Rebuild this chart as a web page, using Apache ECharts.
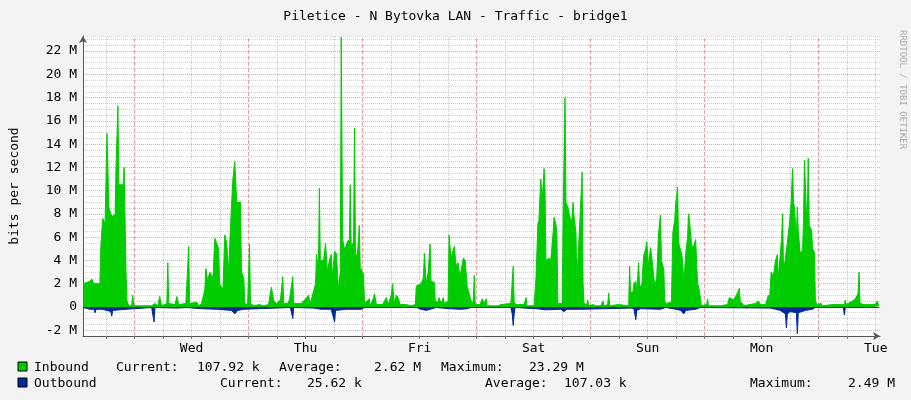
<!DOCTYPE html>
<html>
<head>
<meta charset="utf-8">
<script src="https://cdn.jsdelivr.net/npm/echarts@6/dist/echarts.min.js"></script>
<style>
  html, body { margin: 0; padding: 0; background: #f3f3f3; }
  #chart { width: 911px; height: 400px; }
</style>
</head>
<body>
<div id="chart"></div>
<script>
// hours since Tue 00:00, values in Mbit/s
const inTimes = [1.2,2.6,3.0,3.5,4.7,4.9,5.3,5.8,6.2,6.6,7.2,7.9,8.1,8.5,8.7,9.6,9.8,10.2,10.4,10.8,11.4,11.6,11.9,15.6,16.3,16.9,17.3,17.7,18.8,19.0,19.2,20.5,20.9,21.3,22.8,23.4,23.6,25.1,25.5,26.1,26.8,27.0,27.4,27.8,28.5,28.9,29.3,29.7,29.9,30.6,31.0,31.4,31.8,32.2,32.7,33.1,33.5,34.3,34.5,35.0,35.2,35.8,36.2,36.4,37.1,38.3,38.7,39.2,40.2,40.8,41.3,41.9,42.7,43.2,43.4,44.2,44.6,45.3,45.5,47.1,48.2,48.6,49.0,50.1,50.3,50.7,50.9,51.1,51.8,52.2,52.6,53.0,53.4,53.6,54.1,54.5,54.9,55.3,55.5,55.8,56.2,56.8,57.2,57.4,57.6,58.1,58.3,58.5,58.9,59.3,59.5,60.2,60.4,60.8,61.4,61.6,62.3,62.5,62.9,64.2,65.0,65.4,66.0,66.3,66.7,67.1,67.5,67.9,69.2,70.2,71.1,71.3,72.3,72.8,73.0,73.4,73.8,74.2,74.4,75.1,75.3,75.9,76.1,76.5,77.0,77.2,78.0,78.2,78.6,79.1,79.3,79.7,80.1,80.5,81.2,81.6,82.0,82.2,82.6,83.0,83.3,83.5,83.7,84.7,85.2,85.6,86.0,86.2,88.5,89.1,91.2,91.7,91.9,92.3,94.0,94.4,94.6,96.1,96.5,96.9,97.1,97.5,97.8,98.2,98.4,98.6,99.2,99.6,100.1,100.3,100.7,100.9,101.1,102.0,102.2,102.6,102.8,103.2,103.6,104.0,104.3,104.5,104.9,105.1,105.5,105.7,106.2,106.4,106.6,107.2,107.4,107.6,108.5,109.1,110.1,110.6,110.8,111.6,111.8,112.0,113.9,114.3,116.0,116.2,116.4,116.9,117.1,117.5,117.7,118.1,118.3,118.8,119.0,119.2,119.6,119.8,120.2,120.6,120.8,121.1,121.5,121.9,122.3,122.7,122.9,123.4,123.6,123.8,125.0,125.3,125.7,125.9,126.3,126.5,127.2,127.4,127.6,127.8,128.0,128.4,128.6,128.8,129.2,129.5,130.1,130.5,130.7,131.1,131.3,132.4,132.6,132.8,133.9,134.3,135.3,136.8,137.2,138.1,138.5,138.9,139.3,139.5,140.0,140.2,142.7,143.3,143.7,144.8,145.4,145.6,146.0,146.5,146.9,147.3,147.5,147.7,148.2,148.4,148.6,149.0,149.4,149.8,150.2,150.5,150.7,150.9,151.3,151.5,151.7,152.1,152.6,152.8,153.0,153.4,153.6,153.8,154.0,154.5,154.7,155.1,155.3,155.7,156.5,156.8,158.9,159.3,161.4,161.6,161.8,162.6,163.1,163.7,164.1,164.3,164.5,164.7,165.6,166.8,167.9,168.3,168.7];
const inValues = [2.0,2.2,2.4,2.0,2.0,5.2,7.6,7.2,14.9,8.5,7.8,7.9,12.0,17.3,10.5,10.5,12.0,3.0,0.5,0.1,0.1,1.0,0.1,0.1,0.3,0.1,0.9,0.1,0.3,3.8,0.3,0.2,0.9,0.2,0.3,5.2,0.3,0.4,0.1,0.3,1.5,3.3,2.2,3.0,2.5,5.9,5.8,5.0,2.0,1.5,6.2,5.5,3.0,7.0,11.0,12.5,9.0,9.0,3.0,2.5,0.3,0.2,5.4,0.3,0.1,0.2,0.3,0.1,0.2,1.7,0.5,0.3,0.6,2.6,0.3,0.3,0.6,2.6,0.3,0.3,0.8,1.0,0.3,2.0,4.5,3.0,10.2,4.0,4.0,5.5,3.0,4.0,4.5,2.5,4.8,4.6,1.5,3.0,23.2,5.8,4.9,5.6,5.8,10.5,5.2,5.6,15.4,4.6,4.4,7.0,3.4,2.8,0.3,0.2,0.7,0.1,0.8,1.1,0.2,0.2,0.8,0.2,1.0,2.0,0.3,1.0,0.8,0.2,0.2,0.1,0.2,1.8,2.0,2.5,4.6,2.0,3.0,5.4,2.2,2.1,0.5,0.4,0.8,0.3,0.8,0.3,0.5,6.2,4.2,4.9,5.2,3.5,3.8,2.6,4.2,4.0,1.8,1.5,0.9,0.3,0.5,2.7,0.2,0.2,0.7,0.3,0.7,0.1,0.1,0.2,0.3,3.5,0.4,0.2,0.2,0.8,0.1,0.1,2.5,7.2,7.4,11.0,9.2,11.9,10.0,4.0,4.2,4.0,6.4,7.7,7.1,6.2,0.3,0.3,7.6,18.0,9.0,8.6,7.8,7.2,9.0,7.8,6.4,2.3,2.3,7.1,11.6,2.0,0.3,0.2,0.6,0.1,0.2,0.1,0.1,0.5,0.1,0.2,1.2,0.1,0.2,0.2,0.1,3.5,1.2,1.3,2.0,2.2,1.4,3.8,1.6,2.0,3.5,4.5,5.0,5.6,3.5,5.1,4.5,4.4,1.8,2.5,6.4,7.9,4.0,3.2,0.5,0.3,0.4,6.4,7.5,8.9,10.3,5.5,4.5,3.6,1.9,1.9,4.6,6.0,8.0,7.5,5.5,5.0,5.8,2.0,1.8,0.8,0.1,0.2,0.7,0.1,0.1,0.2,0.1,0.2,0.8,0.6,0.9,1.2,1.6,0.4,0.3,0.1,0.3,0.5,0.2,0.2,1.0,0.3,3.0,2.7,4.0,4.5,2.3,3.5,6.0,8.0,3.0,3.0,5.5,7.0,9.0,11.9,9.0,8.5,6.0,8.6,6.5,4.6,4.9,7.5,12.6,8.3,8.0,12.8,7.0,6.6,5.0,4.7,0.5,0.2,0.3,0.1,0.2,0.1,0.2,0.6,0.2,0.4,0.5,0.7,1.0,1.2,3.0,0.3,0.2,0.2,0.2,0.5,0.1];
const outTimes = [1.2,2.6,3.5,3.7,3.9,5.1,6.2,7.0,7.2,7.4,10.2,10.6,15.6,16.1,16.3,20.9,23.0,26.1,29.3,32.4,33.1,33.7,35.0,35.4,44.8,45.3,45.5,49.7,51.3,53.4,54.1,54.3,56.6,59.7,60.4,71.3,72.3,73.4,73.8,75.5,78.2,80.7,82.0,82.8,91.2,91.5,91.7,91.9,92.1,96.5,97.5,98.6,101.7,102.4,103.0,106.2,106.6,116.4,117.1,117.3,117.5,117.7,118.5,122.7,123.8,125.3,127.0,127.6,128.0,130.1,131.1,145.8,146.9,147.9,149.0,149.2,149.4,150.0,151.3,151.5,151.7,153.2,154.7,155.3,161.2,161.4,161.6,168.7];
const outValues = [-0.05,-0.2,-0.2,-0.5,-0.2,-0.2,-0.3,-0.4,-0.8,-0.3,-0.2,-0.05,-0.05,-1.3,-0.05,-0.1,-0.05,-0.15,-0.2,-0.3,-0.6,-0.3,-0.2,-0.05,-0.05,-1.0,-0.05,-0.1,-0.2,-0.2,-1.3,-0.3,-0.2,-0.2,-0.05,-0.05,-0.2,-0.3,-0.15,-0.05,-0.15,-0.2,-0.15,-0.05,-0.05,-0.6,-1.6,-0.6,-0.05,-0.15,-0.2,-0.25,-0.2,-0.4,-0.2,-0.2,-0.05,-0.1,-0.15,-0.6,-1.1,-0.3,-0.15,-0.2,-0.05,-0.15,-0.3,-0.6,-0.3,-0.2,-0.05,-0.1,-0.2,-0.3,-0.6,-1.8,-0.6,-0.4,-0.5,-2.3,-0.5,-0.3,-0.2,-0.05,-0.05,-0.7,-0.05,-0.05];
const dayHours = [24, 48, 72, 96, 120, 144, 168];
const dayNames = ['Wed', 'Thu', 'Fri', 'Sat', 'Sun', 'Mon', 'Tue'];

const mono = 'DejaVu Sans Mono';
const chart = echarts.init(document.getElementById('chart'));

// vertical grid: dotted every 6 h, red dashed at noon
let gridLines = [];
for (let h = 6; h <= 168; h += 6) {
    let noon = h % 24 === 12;
    gridLines.push({
        xAxis: h,
        lineStyle: { color: noon ? '#f0a0a0' : '#c8c8c8', type: noon ? 'dashed' : 'dotted', width: 1 }
    });
}
let tickHours = [];
for (let h = 6; h <= 168; h += 6) tickHours.push(h);

const option = {
    backgroundColor: '#f3f3f3',
    animation: false,
    title: {
        text: 'Piletice - N Bytovka LAN - Traffic - bridge1',
        left: 'center', top: 5,
        textStyle: { fontFamily: mono, fontSize: 13, fontWeight: 'normal', color: '#000' }
    },
    grid: { left: 81, right: 31, top: 36, bottom: 64, show: true, backgroundColor: '#fff', borderWidth: 0 },
    xAxis: {
        type: 'value', min: 1.15, max: 168.9,
        axisLine: { show: true, onZero: false, lineStyle: { color: '#555' }, symbol: ['none', 'arrow'], symbolSize: [6, 7] },
        axisTick: { show: true, customValues: tickHours, length: 3, lineStyle: { color: '#777' } },
        axisLabel: {
            customValues: dayHours,
            formatter: v => dayNames[dayHours.indexOf(v)] || '',
            fontFamily: mono, fontSize: 13, color: '#000', margin: 6
        },
        splitLine: { show: false }
    },
    yAxis: {
        type: 'value', min: -2.5, max: 23.3, interval: 0.5,
        name: 'bits per second', nameLocation: 'middle', nameGap: 62, nameRotate: 90,
        nameTextStyle: { fontFamily: mono, fontSize: 13, color: '#000' },
        axisLine: { show: true, lineStyle: { color: '#555' }, symbol: ['none', 'arrow'], symbolSize: [6, 7] },
        axisTick: { show: false },
        axisLabel: {
            fontFamily: mono, fontSize: 13, color: '#000', margin: 6,
            formatter: v => (Math.round(v * 2) % 4 === 0 ? (v === 0 ? '0' : v + ' M') : '')
        },
        splitLine: { show: true, lineStyle: { color: ['#d0d0d0', '#f0a0a0', '#d0d0d0', '#d0d0d0'], type: 'dotted' } }
    },
    series: [
        {
            type: 'line', data: [], z: 0, silent: true,
            markLine: { silent: true, z: 0, symbol: 'none', label: { show: false }, data: gridLines }
        },
        {
            name: 'Inbound', type: 'line', z: 3, symbol: 'none',
            data: inTimes.map((t, i) => [t, inValues[i]]),
            lineStyle: { color: '#00cc00', width: 1 },
            areaStyle: { color: '#00cc00', opacity: 1 }
        },
        {
            name: 'Outbound', type: 'line', z: 3, symbol: 'none',
            data: outTimes.map((t, i) => [t, outValues[i]]),
            lineStyle: { color: '#002a97', width: 1 },
            areaStyle: { color: '#002a97', opacity: 1 }
        }
    ],
    graphic: [
        { type: 'text', right: 4, top: 30, rotation: -Math.PI / 2, style: { text: 'RRDTOOL / TOBI OETIKER', fill: '#aaa', font: '9px ' + mono } },
        { type: 'rect', shape: { x: 18, y: 362, width: 9, height: 9 }, style: { fill: '#00cc00', stroke: '#000' } },
        { type: 'rect', shape: { x: 18, y: 378, width: 9, height: 9 }, style: { fill: '#002a97', stroke: '#000' } }
    ]
};

const legendTexts = [
    ['Inbound', 34, 361], ['Current:', 116, 361], ['107.92 k', 197, 361], ['Average:', 279, 361],
    ['2.62 M', 374, 361], ['Maximum:', 441, 361], ['23.29 M', 529, 361],
    ['Outbound', 34, 377], ['Current:', 220, 377], ['25.62 k', 307, 377], ['Average:', 485, 377],
    ['107.03 k', 564, 377], ['Maximum:', 750, 377], ['2.49 M', 848, 377]
];
legendTexts.forEach(t => {
    option.graphic.push({ type: 'text', x: t[1], y: t[2], style: { text: t[0], fill: '#000', font: '13px ' + mono } });
});

chart.setOption(option);
window.addEventListener('resize', function() {
    chart.resize();
});
</script>
</body>
</html>
